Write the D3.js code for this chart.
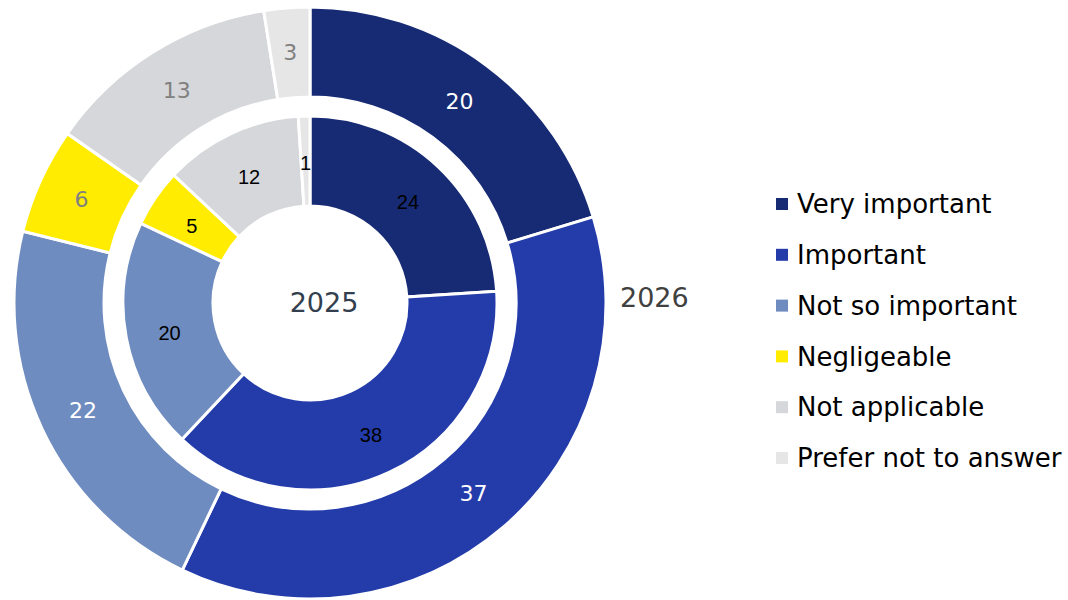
<!DOCTYPE html>
<html>
<head>
<meta charset="utf-8">
<script src="https://cdn.jsdelivr.net/npm/d3@7"></script>
<style>
body { margin: 0; background: #fff; }
#vis { width: 1068px; height: 600px; }
</style>
</head>
<body>
<div id="vis"></div>
<script>
var categories = ['Very important', 'Important', 'Not so important', 'Negligeable', 'Not applicable', 'Prefer not to answer'];
// inner ring (2025), shares in %
var values2025 = [24, 38, 20, 5, 12, 1];
// outer ring (2026); labels are rounded
var values2026 = [20.3, 36.8, 21.8, 5.8, 12.8, 2.5];
var colours = ['#172a74', '#233caa', '#6e8cbf', '#ffec00', '#d6d7da', '#e6e6e6'];
var outerText = ['#ffffff', '#ffffff', '#ffffff', '#808080', '#808080', '#808080'];

var width = 1068, height = 600;
var cx = 310, cy = 303;

var svg = d3.select('#vis')
    .append('svg')
    .attr('width', width)
    .attr('height', height);

var g = svg.append('g')
    .attr('transform', 'translate(' + cx + ',' + cy + ')');

var colour_scale = d3.scaleOrdinal()
    .domain(categories)
    .range(colours);

var pie = d3.pie()
    .sort(null)
    .value(function(d) { return d.v; });

function rows(vals) {
    return vals.map(function(v, i) { return { k: categories[i], v: v, i: i }; });
}

var innerArc = d3.arc().innerRadius(97).outerRadius(187);
var outerArc = d3.arc().innerRadius(206).outerRadius(296);
var innerLab = d3.arc().innerRadius(143).outerRadius(143);
var outerLab = d3.arc().innerRadius(251).outerRadius(251);

function ring(vals, arc, lab, cls, shift) {
    var arcs = pie(rows(vals));
    g.selectAll('.' + cls)
        .data(arcs)
        .enter()
        .append('path')
        .attr('class', cls)
        .attr('d', arc)
        .attr('fill', function(d) { return colour_scale(d.data.k); })
        .attr('stroke', '#fff')
        .attr('stroke-width', 3);
    return g.selectAll('.' + cls + '-lab')
        .data(arcs)
        .enter()
        .append('text')
        .attr('class', cls + '-lab')
        .attr('transform', function(d) {
            var c = lab.centroid(d);
            return 'translate(' + c[0] + ',' + (c[1] + shift) + ')';
        })
        .attr('text-anchor', 'middle')
        .attr('dy', '0.35em')
        .text(function(d) { return Math.round(d.data.v); });
}

ring(values2025, innerArc, innerLab, 'inner', 3)
    .attr('font-family', 'Liberation Sans, Arial, sans-serif')
    .attr('font-size', 20)
    .attr('fill', '#000');

ring(values2026, outerArc, outerLab, 'outer', 0)
    .attr('font-family', 'DejaVu Sans, Verdana, sans-serif')
    .attr('font-size', 22)
    .attr('fill', function(d) { return outerText[d.data.i]; });

g.append('text')
    .attr('x', 14)
    .attr('text-anchor', 'middle')
    .attr('dy', '0.35em')
    .attr('font-family', 'DejaVu Sans, Verdana, sans-serif')
    .attr('font-size', 27)
    .attr('fill', '#333f4f')
    .text('2025');

svg.append('text')
    .attr('x', 620)
    .attr('y', 298)
    .attr('dy', '0.35em')
    .attr('font-family', 'DejaVu Sans, Verdana, sans-serif')
    .attr('font-size', 27)
    .attr('fill', '#404040')
    .text('2026');

var legend = svg.append('g')
    .attr('transform', 'translate(776,204)');

var items = legend.selectAll('.item')
    .data(categories)
    .enter()
    .append('g')
    .attr('class', 'item')
    .attr('transform', function(d, i) { return 'translate(0,' + (i * 50.8) + ')'; });

items.append('rect')
    .attr('x', 0)
    .attr('y', -6)
    .attr('width', 12)
    .attr('height', 12)
    .attr('fill', function(d) { return colour_scale(d); });

items.append('text')
    .attr('x', 21)
    .attr('dy', '0.35em')
    .attr('font-family', 'DejaVu Sans, Verdana, sans-serif')
    .attr('font-size', 26)
    .attr('fill', '#000')
    .text(function(d) { return d; });
</script>
</body>
</html>
